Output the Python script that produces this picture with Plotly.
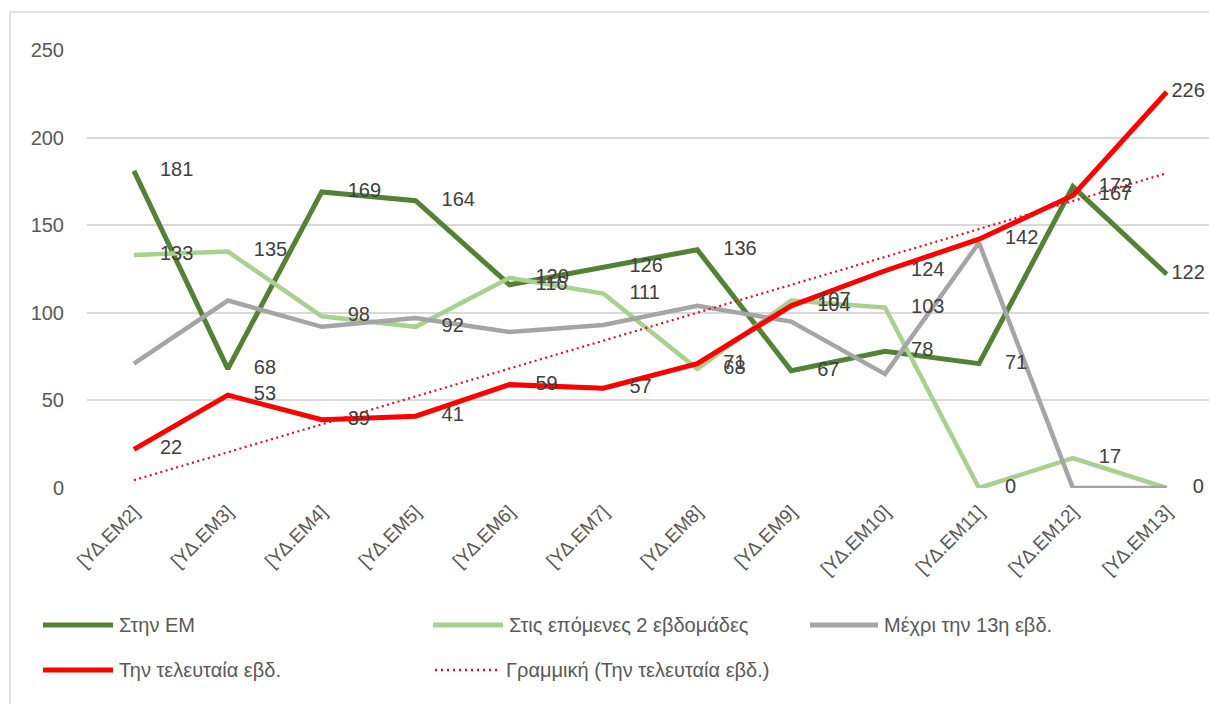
import numpy as np
import plotly.graph_objects as go

categories = ["[ΥΔ.ΕΜ2]", "[ΥΔ.ΕΜ3]", "[ΥΔ.ΕΜ4]", "[ΥΔ.ΕΜ5]", "[ΥΔ.ΕΜ6]", "[ΥΔ.ΕΜ7]",
              "[ΥΔ.ΕΜ8]", "[ΥΔ.ΕΜ9]", "[ΥΔ.ΕΜ10]", "[ΥΔ.ΕΜ11]", "[ΥΔ.ΕΜ12]", "[ΥΔ.ΕΜ13]"]
stin_em = [181, 68, 169, 164, 116, 126, 136, 67, 78, 71, 172, 122]
epomenes_2 = [133, 135, 98, 92, 120, 111, 68, 107, 103, 0, 17, 0]
mexri_13 = [71, 107, 92, 97, 89, 93, 104, 95, 65, 140, 0, 0]
teleutaia = [22, 53, 39, 41, 59, 57, 71, 104, 124, 142, 167, 226]
y_ticks = [0, 50, 100, 150, 200, 250]

FONT = "Liberation Sans, Arial, sans-serif"
W, H = 1209, 704
L, R, T, B = 87, 0, 50, 216
PW, PH = W - L - R, H - T - B

def px(xpix):
    return (xpix - L) / PW

def py(ypix):
    return (H - B - ypix) / PH

x = list(range(len(categories)))
coef = np.polyfit(np.arange(1, len(teleutaia) + 1), teleutaia, 1)
trend = list(np.polyval(coef, np.arange(1, len(teleutaia) + 1)))

series = [
    ("Στην ΕΜ", stin_em, "#548235", 5, True, 6),
    ("Στις επόμενες 2 εβδομάδες", epomenes_2, "#A9D18E", 4.5, True, 40),
    ("Μέχρι την 13η εβδ.", mexri_13, "#A5A5A5", 4.5, False, 40),
    ("Την τελευταία εβδ.", teleutaia, "#FF0000", 5, True, 6),
]

fig = go.Figure()

for name, vals, color, width, _, _ in series:
    fig.add_trace(go.Scatter(
        x=x, y=vals, name=name, mode="lines",
        line=dict(color=color, width=width),
        showlegend=False, hoverinfo="skip",
    ))

fig.add_trace(go.Scatter(
    x=x, y=trend, name="Γραμμική (Την τελευταία εβδ.)", mode="lines",
    line=dict(color="#E01020", width=2.2, dash="2px,3.5px"),
    showlegend=False, hoverinfo="skip",
))

# data labels on top of all lines
for name, vals, color, width, labels, last_size in series:
    if not labels:
        continue
    sizes = [40] * (len(vals) - 1) + [last_size]
    fig.add_trace(go.Scatter(
        x=x, y=vals, name=name, mode="markers+text",
        marker=dict(size=sizes, opacity=0, color=color),
        text=[str(v) for v in vals], textposition="middle right",
        textfont=dict(family=FONT, size=20, color="#404040"),
        cliponaxis=False, showlegend=False, hoverinfo="skip",
    ))

# legend (drawn as line samples + text)
legend_items = [
    ("Στην ΕΜ", "#548235", 5, "solid", 43, 113, 625),
    ("Στις επόμενες 2 εβδομάδες", "#A9D18E", 5, "solid", 433, 503, 625),
    ("Μέχρι την 13η εβδ.", "#A5A5A5", 5, "solid", 810, 878, 625),
    ("Την τελευταία εβδ.", "#FF0000", 5, "solid", 43, 113, 670),
    ("Γραμμική (Την τελευταία εβδ.)", "#E01020", 2.5, "2px,4px", 435, 500, 670),
]
for text, color, lw, dash, x0, x1, yy in legend_items:
    fig.add_shape(type="line", xref="paper", yref="paper",
                  x0=px(x0), x1=px(x1), y0=py(yy), y1=py(yy),
                  line=dict(color=color, width=lw, dash=dash))
    fig.add_annotation(xref="paper", yref="paper", x=px(x1 + 4), y=py(yy),
                       xanchor="left", yanchor="middle", showarrow=False,
                       text=text, font=dict(family=FONT, size=20, color="#595959"))

fig.update_layout(
    width=W, height=H,
    margin=dict(l=L, r=R, t=T, b=B, autoexpand=False),
    paper_bgcolor="white", plot_bgcolor="white",
    font=dict(family=FONT, size=20, color="#595959"),
    showlegend=False,
    xaxis=dict(
        tickmode="array", tickvals=x, ticktext=categories,
        range=[-0.5, 11.45], tickangle=-45, showgrid=False,
        showline=False, zeroline=False, ticks="", automargin=False,
        ticklabelstandoff=8,
        tickfont=dict(family=FONT, size=19, color="#595959"),
    ),
    yaxis=dict(
        range=[0, 250], tickvals=y_ticks, showgrid=True, gridcolor="#D9D9D9",
        gridwidth=1.5, zeroline=False, showline=False, ticks="", automargin=False,
        ticklabelstandoff=22,
        tickfont=dict(family=FONT, size=20, color="#595959"),
    ),
)

# chart border (partly cropped in the reference)
fig.add_shape(type="path", xref="paper", yref="paper",
              path=f"M {px(10)} {py(704)} L {px(10)} {py(12)} L {px(1209)} {py(12)}",
              line=dict(color="#D9D9D9", width=1.5))

fig.write_html(
    "out.html",
    config={"displayModeBar": False},
    post_script="document.body.style.margin='0';document.body.style.overflow='hidden';",
)
